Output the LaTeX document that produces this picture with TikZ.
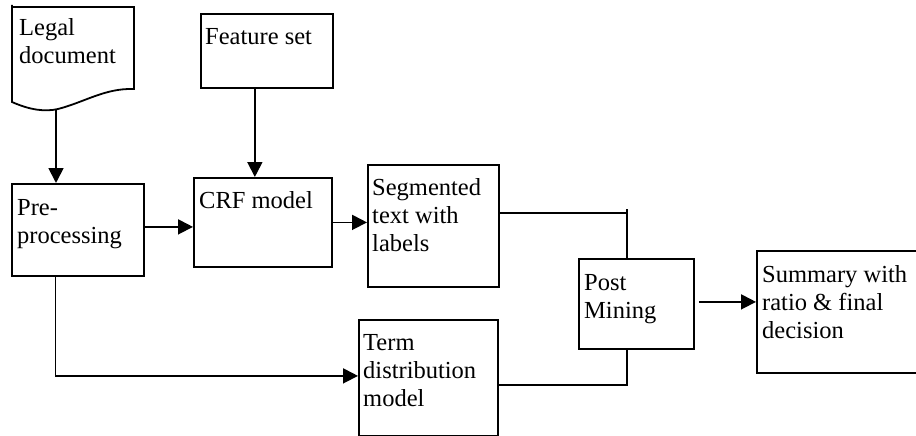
\documentclass[tikz,border=0pt]{standalone}
\usepackage{fontspec}
\setmainfont{Liberation Serif}
\usetikzlibrary{arrows.meta,calc}
\newcommand{\boxlines}[1]{\parbox[t]{200pt}{\fontsize{24.5pt}{28pt}\selectfont\raggedright #1}}
\begin{document}
\begin{tikzpicture}[x=1pt,y=-1pt,
  box/.style={draw,line width=1.8pt,rectangle,anchor=north west,inner sep=0pt},
  txt/.style={anchor=base west,inner sep=0pt},
  conn/.style={line width=1.8pt},
  arr/.style={line width=1.8pt,-{Triangle[length=15pt,width=15pt]}}]
\useasboundingbox[fill=white] (0,0) rectangle (916,436);
% document shape
\draw[line width=1.8pt] (12,5) -- (12,102) .. controls (30,110) and (45,112) .. (58,109)
   .. controls (85,102) and (105,88) .. (134,89) -- (134,7) -- (12,7);
\coordinate (docb) at (56,110);
\node[txt] (tdoc) at (19,36) {\boxlines{Legal\\document}};
% boxes
\node[box,minimum width=132pt,minimum height=92pt] (pre) at (11,183) {};
\node[box,minimum width=132pt,minimum height=74pt] (feat) at (200,13) {};
\node[box,minimum width=138pt,minimum height=89pt] (crf) at (193,177) {};
\node[box,minimum width=131pt,minimum height=122pt] (seg) at (367,164) {};
\node[box,minimum width=139pt,minimum height=116pt] (term) at (358,319) {};
\node[box,minimum width=115pt,minimum height=90pt] (post) at (578,258) {};
\node[box,minimum width=170pt,minimum height=122pt] (sum) at (756,250) {};
% texts
\node[txt] (tpre) at ($(pre.north west)+(6,32)$) {\boxlines{Pre-\\processing}};
\node[txt] (tfeat) at ($(feat.north west)+(5,32)$) {\boxlines{Feature set}};
\node[txt] (tcrf) at ($(crf.north west)+(6,31)$) {\boxlines{CRF model}};
\node[txt] (tseg) at ($(seg.north west)+(5,31)$) {\boxlines{Segmented\\text with\\labels}};
\node[txt] (tterm) at ($(term.north west)+(5,31)$) {\boxlines{Term\\distribution\\model}};
\node[txt] (tpost) at ($(post.north west)+(6,32)$) {\boxlines{Post\\Mining}};
\node[txt] (tsum) at ($(sum.north west)+(6,32)$) {\boxlines{Summary with\\ratio \& final\\decision}};
% connectors
\draw[arr] (docb) -- (docb |- pre.north);
\coordinate (fa) at ($(feat.south west)!0.41!(feat.south east)$);
\draw[arr] (fa) -- (fa |- crf.north);
\coordinate (pa) at ($(pre.east)+(0,-3)$);
\draw[arr] (pa) -- (crf.west |- pa);
\draw[arr] (crf.east) -- (seg.west |- crf.east);
\coordinate (sa) at ($(seg.east)+(0,-13)$);
\coordinate (pt) at ($(post.north west)!0.417!(post.north east)$);
\draw[conn] (sa) -| (pt);
\draw[conn] ($(pt)+(0,-46)$) -- ++(0,-3);
\coordinate (ta) at ($(term.east)+(0,7)$);
\coordinate (pb) at ($(post.south west)!0.417!(post.south east)$);
\draw[conn] (ta) -| (pb);
\coordinate (qa) at ($(post.east)+(4,-2)$);
\draw[arr] (qa) -- (sum.west |- qa);
\coordinate (pd) at ($(pre.south west)!0.333!(pre.south east)$);
\coordinate (tw) at ($(term.west)+(0,-2)$);
\draw[arr] (pd) |- (tw);
\end{tikzpicture}
\end{document}
